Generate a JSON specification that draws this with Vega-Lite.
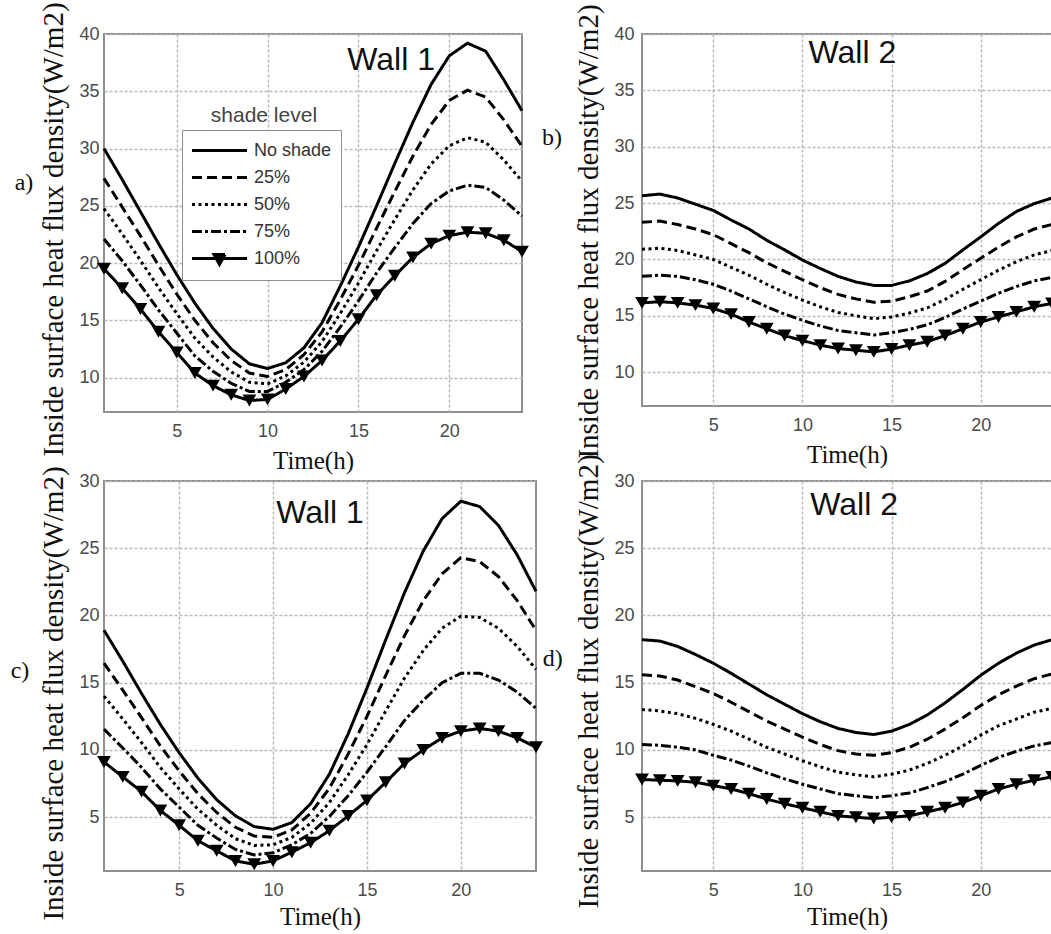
{
  "$schema": "https://vega.github.io/schema/vega-lite/v6.json",
  "background": "white",
  "padding": {"left": 9, "top": 0, "right": 0, "bottom": 0},
  "columns": 2,
  "spacing": {"row": 69, "column": 106},
  "bounds": "flush",
  "resolve": {"scale": {"strokeDash": "independent"}, "legend": {"strokeDash": "independent"}},
  "config": {
    "view": {"stroke": "#8f8f8f", "strokeWidth": 2},
    "axis": {"domain": false, "ticks": false, "grid": true, "gridColor": "#b8b8b8", "gridWidth": 1.5, "gridDash": [3, 2], "labelFont": "Liberation Sans", "labelFontSize": 18, "labelColor": "#4a4a4a", "titleFont": "Liberation Serif", "titleFontWeight": "normal", "titleColor": "#111111"},
    "axisX": {"labelPadding": 10, "titleFontSize": 25, "titlePadding": 8, "titleFont": "Liberation Serif"},
    "axisY": {"labelPadding": 5, "titleFontSize": 29, "titlePadding": 10, "titleFont": "Liberation Serif"}
  },
  "datasets": {
    "a": [
      {"hour":1,"shade":"No shade","flux":30.0},{"hour":2,"shade":"No shade","flux":27.3},{"hour":3,"shade":"No shade","flux":24.5},{"hour":4,"shade":"No shade","flux":21.7},{"hour":5,"shade":"No shade","flux":19.0},{"hour":6,"shade":"No shade","flux":16.5},{"hour":7,"shade":"No shade","flux":14.3},{"hour":8,"shade":"No shade","flux":12.5},{"hour":9,"shade":"No shade","flux":11.2},{"hour":10,"shade":"No shade","flux":10.8},{"hour":11,"shade":"No shade","flux":11.3},{"hour":12,"shade":"No shade","flux":12.6},{"hour":13,"shade":"No shade","flux":14.8},{"hour":14,"shade":"No shade","flux":18.0},{"hour":15,"shade":"No shade","flux":21.4},{"hour":16,"shade":"No shade","flux":25.0},{"hour":17,"shade":"No shade","flux":28.7},{"hour":18,"shade":"No shade","flux":32.3},{"hour":19,"shade":"No shade","flux":35.6},{"hour":20,"shade":"No shade","flux":38.1},{"hour":21,"shade":"No shade","flux":39.2},{"hour":22,"shade":"No shade","flux":38.5},{"hour":23,"shade":"No shade","flux":36.0},{"hour":24,"shade":"No shade","flux":33.3},
      {"hour":1,"shade":"25%","flux":27.4},{"hour":2,"shade":"25%","flux":24.9},{"hour":3,"shade":"25%","flux":22.4},{"hour":4,"shade":"25%","flux":19.8},{"hour":5,"shade":"25%","flux":17.3},{"hour":6,"shade":"25%","flux":15.0},{"hour":7,"shade":"25%","flux":13.05},{"hour":8,"shade":"25%","flux":11.5},{"hour":9,"shade":"25%","flux":10.4},{"hour":10,"shade":"25%","flux":10.1},{"hour":11,"shade":"25%","flux":10.7},{"hour":12,"shade":"25%","flux":12.0},{"hour":13,"shade":"25%","flux":14.0},{"hour":14,"shade":"25%","flux":16.8},{"hour":15,"shade":"25%","flux":19.8},{"hour":16,"shade":"25%","flux":23.05},{"hour":17,"shade":"25%","flux":26.25},{"hour":18,"shade":"25%","flux":29.35},{"hour":19,"shade":"25%","flux":32.1},{"hour":20,"shade":"25%","flux":34.2},{"hour":21,"shade":"25%","flux":35.1},{"hour":22,"shade":"25%","flux":34.5},{"hour":23,"shade":"25%","flux":32.5},{"hour":24,"shade":"25%","flux":30.2},
      {"hour":1,"shade":"50%","flux":24.75},{"hour":2,"shade":"50%","flux":22.55},{"hour":3,"shade":"50%","flux":20.25},{"hour":4,"shade":"50%","flux":17.85},{"hour":5,"shade":"50%","flux":15.6},{"hour":6,"shade":"50%","flux":13.45},{"hour":7,"shade":"50%","flux":11.8},{"hour":8,"shade":"50%","flux":10.5},{"hour":9,"shade":"50%","flux":9.6},{"hour":10,"shade":"50%","flux":9.45},{"hour":11,"shade":"50%","flux":10.15},{"hour":12,"shade":"50%","flux":11.35},{"hour":13,"shade":"50%","flux":13.15},{"hour":14,"shade":"50%","flux":15.6},{"hour":15,"shade":"50%","flux":18.25},{"hour":16,"shade":"50%","flux":21.1},{"hour":17,"shade":"50%","flux":23.8},{"hour":18,"shade":"50%","flux":26.4},{"hour":19,"shade":"50%","flux":28.65},{"hour":20,"shade":"50%","flux":30.25},{"hour":21,"shade":"50%","flux":30.95},{"hour":22,"shade":"50%","flux":30.55},{"hour":23,"shade":"50%","flux":29.0},{"hour":24,"shade":"50%","flux":27.15},
      {"hour":1,"shade":"75%","flux":22.1},{"hour":2,"shade":"75%","flux":20.2},{"hour":3,"shade":"75%","flux":18.1},{"hour":4,"shade":"75%","flux":15.9},{"hour":5,"shade":"75%","flux":13.9},{"hour":6,"shade":"75%","flux":11.9},{"hour":7,"shade":"75%","flux":10.55},{"hour":8,"shade":"75%","flux":9.5},{"hour":9,"shade":"75%","flux":8.8},{"hour":10,"shade":"75%","flux":8.8},{"hour":11,"shade":"75%","flux":9.6},{"hour":12,"shade":"75%","flux":10.7},{"hour":13,"shade":"75%","flux":12.3},{"hour":14,"shade":"75%","flux":14.4},{"hour":15,"shade":"75%","flux":16.7},{"hour":16,"shade":"75%","flux":19.15},{"hour":17,"shade":"75%","flux":21.35},{"hour":18,"shade":"75%","flux":23.45},{"hour":19,"shade":"75%","flux":25.2},{"hour":20,"shade":"75%","flux":26.3},{"hour":21,"shade":"75%","flux":26.8},{"hour":22,"shade":"75%","flux":26.6},{"hour":23,"shade":"75%","flux":25.5},{"hour":24,"shade":"75%","flux":24.1},
      {"hour":1,"shade":"100%","flux":19.5},{"hour":2,"shade":"100%","flux":17.8},{"hour":3,"shade":"100%","flux":16.0},{"hour":4,"shade":"100%","flux":14.0},{"hour":5,"shade":"100%","flux":12.2},{"hour":6,"shade":"100%","flux":10.4},{"hour":7,"shade":"100%","flux":9.3},{"hour":8,"shade":"100%","flux":8.5},{"hour":9,"shade":"100%","flux":8.0},{"hour":10,"shade":"100%","flux":8.1},{"hour":11,"shade":"100%","flux":9.0},{"hour":12,"shade":"100%","flux":10.1},{"hour":13,"shade":"100%","flux":11.5},{"hour":14,"shade":"100%","flux":13.2},{"hour":15,"shade":"100%","flux":15.1},{"hour":16,"shade":"100%","flux":17.2},{"hour":17,"shade":"100%","flux":18.9},{"hour":18,"shade":"100%","flux":20.5},{"hour":19,"shade":"100%","flux":21.7},{"hour":20,"shade":"100%","flux":22.4},{"hour":21,"shade":"100%","flux":22.7},{"hour":22,"shade":"100%","flux":22.6},{"hour":23,"shade":"100%","flux":22.0},{"hour":24,"shade":"100%","flux":21.0}
    ],
    "b": [
      {"hour":1,"shade":"No shade","flux":25.65},{"hour":2,"shade":"No shade","flux":25.8},{"hour":3,"shade":"No shade","flux":25.45},{"hour":4,"shade":"No shade","flux":24.9},{"hour":5,"shade":"No shade","flux":24.35},{"hour":6,"shade":"No shade","flux":23.5},{"hour":7,"shade":"No shade","flux":22.7},{"hour":8,"shade":"No shade","flux":21.7},{"hour":9,"shade":"No shade","flux":20.85},{"hour":10,"shade":"No shade","flux":19.95},{"hour":11,"shade":"No shade","flux":19.2},{"hour":12,"shade":"No shade","flux":18.5},{"hour":13,"shade":"No shade","flux":18.0},{"hour":14,"shade":"No shade","flux":17.7},{"hour":15,"shade":"No shade","flux":17.7},{"hour":16,"shade":"No shade","flux":18.1},{"hour":17,"shade":"No shade","flux":18.75},{"hour":18,"shade":"No shade","flux":19.65},{"hour":19,"shade":"No shade","flux":20.85},{"hour":20,"shade":"No shade","flux":22.0},{"hour":21,"shade":"No shade","flux":23.2},{"hour":22,"shade":"No shade","flux":24.25},{"hour":23,"shade":"No shade","flux":24.95},{"hour":24,"shade":"No shade","flux":25.45},
      {"hour":1,"shade":"25%","flux":23.3},{"hour":2,"shade":"25%","flux":23.4},{"hour":3,"shade":"25%","flux":23.1},{"hour":4,"shade":"25%","flux":22.7},{"hour":5,"shade":"25%","flux":22.2},{"hour":6,"shade":"25%","flux":21.4},{"hour":7,"shade":"25%","flux":20.6},{"hour":8,"shade":"25%","flux":19.7},{"hour":9,"shade":"25%","flux":18.95},{"hour":10,"shade":"25%","flux":18.2},{"hour":11,"shade":"25%","flux":17.5},{"hour":12,"shade":"25%","flux":16.9},{"hour":13,"shade":"25%","flux":16.5},{"hour":14,"shade":"25%","flux":16.2},{"hour":15,"shade":"25%","flux":16.3},{"hour":16,"shade":"25%","flux":16.7},{"hour":17,"shade":"25%","flux":17.2},{"hour":18,"shade":"25%","flux":18.05},{"hour":19,"shade":"25%","flux":19.1},{"hour":20,"shade":"25%","flux":20.1},{"hour":21,"shade":"25%","flux":21.1},{"hour":22,"shade":"25%","flux":22.0},{"hour":23,"shade":"25%","flux":22.7},{"hour":24,"shade":"25%","flux":23.1},
      {"hour":1,"shade":"50%","flux":20.9},{"hour":2,"shade":"50%","flux":21.0},{"hour":3,"shade":"50%","flux":20.8},{"hour":4,"shade":"50%","flux":20.4},{"hour":5,"shade":"50%","flux":20.0},{"hour":6,"shade":"50%","flux":19.3},{"hour":7,"shade":"50%","flux":18.6},{"hour":8,"shade":"50%","flux":17.8},{"hour":9,"shade":"50%","flux":17.05},{"hour":10,"shade":"50%","flux":16.4},{"hour":11,"shade":"50%","flux":15.8},{"hour":12,"shade":"50%","flux":15.3},{"hour":13,"shade":"50%","flux":15.0},{"hour":14,"shade":"50%","flux":14.75},{"hour":15,"shade":"50%","flux":14.9},{"hour":16,"shade":"50%","flux":15.25},{"hour":17,"shade":"50%","flux":15.7},{"hour":18,"shade":"50%","flux":16.45},{"hour":19,"shade":"50%","flux":17.35},{"hour":20,"shade":"50%","flux":18.2},{"hour":21,"shade":"50%","flux":19.05},{"hour":22,"shade":"50%","flux":19.8},{"hour":23,"shade":"50%","flux":20.4},{"hour":24,"shade":"50%","flux":20.8},
      {"hour":1,"shade":"75%","flux":18.5},{"hour":2,"shade":"75%","flux":18.6},{"hour":3,"shade":"75%","flux":18.5},{"hour":4,"shade":"75%","flux":18.2},{"hour":5,"shade":"75%","flux":17.8},{"hour":6,"shade":"75%","flux":17.2},{"hour":7,"shade":"75%","flux":16.5},{"hour":8,"shade":"75%","flux":15.8},{"hour":9,"shade":"75%","flux":15.15},{"hour":10,"shade":"75%","flux":14.6},{"hour":11,"shade":"75%","flux":14.1},{"hour":12,"shade":"75%","flux":13.7},{"hour":13,"shade":"75%","flux":13.5},{"hour":14,"shade":"75%","flux":13.3},{"hour":15,"shade":"75%","flux":13.5},{"hour":16,"shade":"75%","flux":13.8},{"hour":17,"shade":"75%","flux":14.2},{"hour":18,"shade":"75%","flux":14.85},{"hour":19,"shade":"75%","flux":15.6},{"hour":20,"shade":"75%","flux":16.3},{"hour":21,"shade":"75%","flux":17.0},{"hour":22,"shade":"75%","flux":17.6},{"hour":23,"shade":"75%","flux":18.1},{"hour":24,"shade":"75%","flux":18.4},
      {"hour":1,"shade":"100%","flux":16.15},{"hour":2,"shade":"100%","flux":16.25},{"hour":3,"shade":"100%","flux":16.15},{"hour":4,"shade":"100%","flux":15.95},{"hour":5,"shade":"100%","flux":15.65},{"hour":6,"shade":"100%","flux":15.15},{"hour":7,"shade":"100%","flux":14.45},{"hour":8,"shade":"100%","flux":13.85},{"hour":9,"shade":"100%","flux":13.25},{"hour":10,"shade":"100%","flux":12.8},{"hour":11,"shade":"100%","flux":12.4},{"hour":12,"shade":"100%","flux":12.1},{"hour":13,"shade":"100%","flux":11.95},{"hour":14,"shade":"100%","flux":11.8},{"hour":15,"shade":"100%","flux":12.05},{"hour":16,"shade":"100%","flux":12.4},{"hour":17,"shade":"100%","flux":12.7},{"hour":18,"shade":"100%","flux":13.25},{"hour":19,"shade":"100%","flux":13.85},{"hour":20,"shade":"100%","flux":14.45},{"hour":21,"shade":"100%","flux":14.9},{"hour":22,"shade":"100%","flux":15.35},{"hour":23,"shade":"100%","flux":15.8},{"hour":24,"shade":"100%","flux":16.1}
    ],
    "c": [
      {"hour":1,"shade":"No shade","flux":18.9},{"hour":2,"shade":"No shade","flux":16.6},{"hour":3,"shade":"No shade","flux":14.2},{"hour":4,"shade":"No shade","flux":11.9},{"hour":5,"shade":"No shade","flux":9.8},{"hour":6,"shade":"No shade","flux":7.9},{"hour":7,"shade":"No shade","flux":6.3},{"hour":8,"shade":"No shade","flux":5.1},{"hour":9,"shade":"No shade","flux":4.3},{"hour":10,"shade":"No shade","flux":4.1},{"hour":11,"shade":"No shade","flux":4.6},{"hour":12,"shade":"No shade","flux":6.0},{"hour":13,"shade":"No shade","flux":8.2},{"hour":14,"shade":"No shade","flux":11.2},{"hour":15,"shade":"No shade","flux":14.6},{"hour":16,"shade":"No shade","flux":18.2},{"hour":17,"shade":"No shade","flux":21.7},{"hour":18,"shade":"No shade","flux":24.8},{"hour":19,"shade":"No shade","flux":27.2},{"hour":20,"shade":"No shade","flux":28.5},{"hour":21,"shade":"No shade","flux":28.1},{"hour":22,"shade":"No shade","flux":26.7},{"hour":23,"shade":"No shade","flux":24.5},{"hour":24,"shade":"No shade","flux":21.8},
      {"hour":1,"shade":"25%","flux":16.45},{"hour":2,"shade":"25%","flux":14.45},{"hour":3,"shade":"25%","flux":12.4},{"hour":4,"shade":"25%","flux":10.3},{"hour":5,"shade":"25%","flux":8.45},{"hour":6,"shade":"25%","flux":6.75},{"hour":7,"shade":"25%","flux":5.35},{"hour":8,"shade":"25%","flux":4.25},{"hour":9,"shade":"25%","flux":3.6},{"hour":10,"shade":"25%","flux":3.5},{"hour":11,"shade":"25%","flux":4.05},{"hour":12,"shade":"25%","flux":5.3},{"hour":13,"shade":"25%","flux":7.15},{"hour":14,"shade":"25%","flux":9.7},{"hour":15,"shade":"25%","flux":12.5},{"hour":16,"shade":"25%","flux":15.55},{"hour":17,"shade":"25%","flux":18.5},{"hour":18,"shade":"25%","flux":21.1},{"hour":19,"shade":"25%","flux":23.1},{"hour":20,"shade":"25%","flux":24.3},{"hour":21,"shade":"25%","flux":24.0},{"hour":22,"shade":"25%","flux":22.9},{"hour":23,"shade":"25%","flux":21.1},{"hour":24,"shade":"25%","flux":18.9},
      {"hour":1,"shade":"50%","flux":14.0},{"hour":2,"shade":"50%","flux":12.3},{"hour":3,"shade":"50%","flux":10.55},{"hour":4,"shade":"50%","flux":8.7},{"hour":5,"shade":"50%","flux":7.1},{"hour":6,"shade":"50%","flux":5.6},{"hour":7,"shade":"50%","flux":4.4},{"hour":8,"shade":"50%","flux":3.4},{"hour":9,"shade":"50%","flux":2.9},{"hour":10,"shade":"50%","flux":2.95},{"hour":11,"shade":"50%","flux":3.5},{"hour":12,"shade":"50%","flux":4.55},{"hour":13,"shade":"50%","flux":6.1},{"hour":14,"shade":"50%","flux":8.15},{"hour":15,"shade":"50%","flux":10.4},{"hour":16,"shade":"50%","flux":12.9},{"hour":17,"shade":"50%","flux":15.35},{"hour":18,"shade":"50%","flux":17.4},{"hour":19,"shade":"50%","flux":19.05},{"hour":20,"shade":"50%","flux":19.95},{"hour":21,"shade":"50%","flux":19.85},{"hour":22,"shade":"50%","flux":19.05},{"hour":23,"shade":"50%","flux":17.7},{"hour":24,"shade":"50%","flux":16.0},
      {"hour":1,"shade":"75%","flux":11.55},{"hour":2,"shade":"75%","flux":10.15},{"hour":3,"shade":"75%","flux":8.7},{"hour":4,"shade":"75%","flux":7.1},{"hour":5,"shade":"75%","flux":5.75},{"hour":6,"shade":"75%","flux":4.4},{"hour":7,"shade":"75%","flux":3.45},{"hour":8,"shade":"75%","flux":2.6},{"hour":9,"shade":"75%","flux":2.2},{"hour":10,"shade":"75%","flux":2.35},{"hour":11,"shade":"75%","flux":2.95},{"hour":12,"shade":"75%","flux":3.8},{"hour":13,"shade":"75%","flux":5.05},{"hour":14,"shade":"75%","flux":6.6},{"hour":15,"shade":"75%","flux":8.35},{"hour":16,"shade":"75%","flux":10.25},{"hour":17,"shade":"75%","flux":12.2},{"hour":18,"shade":"75%","flux":13.7},{"hour":19,"shade":"75%","flux":15.0},{"hour":20,"shade":"75%","flux":15.7},{"hour":21,"shade":"75%","flux":15.7},{"hour":22,"shade":"75%","flux":15.2},{"hour":23,"shade":"75%","flux":14.3},{"hour":24,"shade":"75%","flux":13.1},
      {"hour":1,"shade":"100%","flux":9.1},{"hour":2,"shade":"100%","flux":8.0},{"hour":3,"shade":"100%","flux":6.9},{"hour":4,"shade":"100%","flux":5.5},{"hour":5,"shade":"100%","flux":4.4},{"hour":6,"shade":"100%","flux":3.25},{"hour":7,"shade":"100%","flux":2.5},{"hour":8,"shade":"100%","flux":1.75},{"hour":9,"shade":"100%","flux":1.5},{"hour":10,"shade":"100%","flux":1.75},{"hour":11,"shade":"100%","flux":2.4},{"hour":12,"shade":"100%","flux":3.1},{"hour":13,"shade":"100%","flux":4.0},{"hour":14,"shade":"100%","flux":5.1},{"hour":15,"shade":"100%","flux":6.25},{"hour":16,"shade":"100%","flux":7.6},{"hour":17,"shade":"100%","flux":9.0},{"hour":18,"shade":"100%","flux":10.0},{"hour":19,"shade":"100%","flux":10.9},{"hour":20,"shade":"100%","flux":11.4},{"hour":21,"shade":"100%","flux":11.6},{"hour":22,"shade":"100%","flux":11.4},{"hour":23,"shade":"100%","flux":10.9},{"hour":24,"shade":"100%","flux":10.2}
    ],
    "d": [
      {"hour":1,"shade":"No shade","flux":18.2},{"hour":2,"shade":"No shade","flux":18.1},{"hour":3,"shade":"No shade","flux":17.7},{"hour":4,"shade":"No shade","flux":17.1},{"hour":5,"shade":"No shade","flux":16.45},{"hour":6,"shade":"No shade","flux":15.7},{"hour":7,"shade":"No shade","flux":14.9},{"hour":8,"shade":"No shade","flux":14.1},{"hour":9,"shade":"No shade","flux":13.4},{"hour":10,"shade":"No shade","flux":12.7},{"hour":11,"shade":"No shade","flux":12.1},{"hour":12,"shade":"No shade","flux":11.6},{"hour":13,"shade":"No shade","flux":11.3},{"hour":14,"shade":"No shade","flux":11.15},{"hour":15,"shade":"No shade","flux":11.4},{"hour":16,"shade":"No shade","flux":11.9},{"hour":17,"shade":"No shade","flux":12.6},{"hour":18,"shade":"No shade","flux":13.5},{"hour":19,"shade":"No shade","flux":14.5},{"hour":20,"shade":"No shade","flux":15.55},{"hour":21,"shade":"No shade","flux":16.45},{"hour":22,"shade":"No shade","flux":17.2},{"hour":23,"shade":"No shade","flux":17.8},{"hour":24,"shade":"No shade","flux":18.2},
      {"hour":1,"shade":"25%","flux":15.6},{"hour":2,"shade":"25%","flux":15.5},{"hour":3,"shade":"25%","flux":15.2},{"hour":4,"shade":"25%","flux":14.7},{"hour":5,"shade":"25%","flux":14.2},{"hour":6,"shade":"25%","flux":13.55},{"hour":7,"shade":"25%","flux":12.85},{"hour":8,"shade":"25%","flux":12.15},{"hour":9,"shade":"25%","flux":11.55},{"hour":10,"shade":"25%","flux":10.95},{"hour":11,"shade":"25%","flux":10.4},{"hour":12,"shade":"25%","flux":9.95},{"hour":13,"shade":"25%","flux":9.7},{"hour":14,"shade":"25%","flux":9.6},{"hour":15,"shade":"25%","flux":9.8},{"hour":16,"shade":"25%","flux":10.2},{"hour":17,"shade":"25%","flux":10.8},{"hour":18,"shade":"25%","flux":11.55},{"hour":19,"shade":"25%","flux":12.4},{"hour":20,"shade":"25%","flux":13.3},{"hour":21,"shade":"25%","flux":14.1},{"hour":22,"shade":"25%","flux":14.75},{"hour":23,"shade":"25%","flux":15.3},{"hour":24,"shade":"25%","flux":15.65},
      {"hour":1,"shade":"50%","flux":13.0},{"hour":2,"shade":"50%","flux":12.9},{"hour":3,"shade":"50%","flux":12.7},{"hour":4,"shade":"50%","flux":12.35},{"hour":5,"shade":"50%","flux":11.9},{"hour":6,"shade":"50%","flux":11.4},{"hour":7,"shade":"50%","flux":10.8},{"hour":8,"shade":"50%","flux":10.2},{"hour":9,"shade":"50%","flux":9.7},{"hour":10,"shade":"50%","flux":9.2},{"hour":11,"shade":"50%","flux":8.75},{"hour":12,"shade":"50%","flux":8.35},{"hour":13,"shade":"50%","flux":8.15},{"hour":14,"shade":"50%","flux":8.0},{"hour":15,"shade":"50%","flux":8.2},{"hour":16,"shade":"50%","flux":8.5},{"hour":17,"shade":"50%","flux":9.0},{"hour":18,"shade":"50%","flux":9.6},{"hour":19,"shade":"50%","flux":10.3},{"hour":20,"shade":"50%","flux":11.1},{"hour":21,"shade":"50%","flux":11.8},{"hour":22,"shade":"50%","flux":12.3},{"hour":23,"shade":"50%","flux":12.8},{"hour":24,"shade":"50%","flux":13.1},
      {"hour":1,"shade":"75%","flux":10.4},{"hour":2,"shade":"75%","flux":10.35},{"hour":3,"shade":"75%","flux":10.2},{"hour":4,"shade":"75%","flux":10.0},{"hour":5,"shade":"75%","flux":9.6},{"hour":6,"shade":"75%","flux":9.25},{"hour":7,"shade":"75%","flux":8.8},{"hour":8,"shade":"75%","flux":8.3},{"hour":9,"shade":"75%","flux":7.85},{"hour":10,"shade":"75%","flux":7.45},{"hour":11,"shade":"75%","flux":7.1},{"hour":12,"shade":"75%","flux":6.75},{"hour":13,"shade":"75%","flux":6.6},{"hour":14,"shade":"75%","flux":6.45},{"hour":15,"shade":"75%","flux":6.6},{"hour":16,"shade":"75%","flux":6.8},{"hour":17,"shade":"75%","flux":7.2},{"hour":18,"shade":"75%","flux":7.65},{"hour":19,"shade":"75%","flux":8.2},{"hour":20,"shade":"75%","flux":8.85},{"hour":21,"shade":"75%","flux":9.45},{"hour":22,"shade":"75%","flux":9.9},{"hour":23,"shade":"75%","flux":10.3},{"hour":24,"shade":"75%","flux":10.55},
      {"hour":1,"shade":"100%","flux":7.8},{"hour":2,"shade":"100%","flux":7.75},{"hour":3,"shade":"100%","flux":7.7},{"hour":4,"shade":"100%","flux":7.6},{"hour":5,"shade":"100%","flux":7.35},{"hour":6,"shade":"100%","flux":7.1},{"hour":7,"shade":"100%","flux":6.75},{"hour":8,"shade":"100%","flux":6.35},{"hour":9,"shade":"100%","flux":6.0},{"hour":10,"shade":"100%","flux":5.7},{"hour":11,"shade":"100%","flux":5.4},{"hour":12,"shade":"100%","flux":5.1},{"hour":13,"shade":"100%","flux":5.0},{"hour":14,"shade":"100%","flux":4.9},{"hour":15,"shade":"100%","flux":5.0},{"hour":16,"shade":"100%","flux":5.1},{"hour":17,"shade":"100%","flux":5.4},{"hour":18,"shade":"100%","flux":5.7},{"hour":19,"shade":"100%","flux":6.1},{"hour":20,"shade":"100%","flux":6.6},{"hour":21,"shade":"100%","flux":7.1},{"hour":22,"shade":"100%","flux":7.45},{"hour":23,"shade":"100%","flux":7.75},{"hour":24,"shade":"100%","flux":8.0}
    ]
  },
  "concat": [
    {
      "width": 418, "height": 378,
      "layer": [
        {
          "data": {"name": "a"},
          "mark": {"type": "line", "color": "black", "strokeWidth": 3},
          "encoding": {
            "x": {"field": "hour", "type": "quantitative", "scale": {"domain": [1, 24], "nice": false, "zero": false}, "axis": {"values": [5, 10, 15, 20], "title": "Time(h)", "titleFont": "Liberation Serif"}},
            "y": {"field": "flux", "type": "quantitative", "scale": {"domain": [7, 40], "nice": false, "zero": false}, "axis": {"values": [10, 15, 20, 25, 30, 35, 40], "title": "Inside surface heat flux density(W/m2)", "titleFont": "Liberation Serif", "titleY": 195}},
            "strokeDash": {"field": "shade", "type": "nominal", "scale": {"domain": ["No shade", "25%", "50%", "75%", "100%"], "range": [[1, 0], [10, 5], [3, 3.5], [10, 3, 3, 3], [1, 0]]},
              "legend": {"orient": "none", "legendX": 78, "legendY": 96, "title": null, "padding": 9, "strokeColor": "#8f8f8f", "fillColor": "white", "labelFont": "Liberation Sans", "labelFontSize": 18, "labelColor": "#333333", "labelOffset": 40, "symbolSize": 400, "symbolStrokeWidth": 3, "symbolStrokeColor": "black", "rowPadding": 6,
                "encode": {"symbols": {"update": {"shape": {"signal": "datum.value === '100%' ? 'M-1.05,0H4.45M1.15,-0.4H2.25L1.7,0.6Z' : 'M-1.05,0H4.45'"}, "fill": {"value": "black"}, "stroke": {"value": "black"}, "strokeWidth": {"value": 3}}}}}}
          }
        },
        {
          "data": {"name": "a"},
          "transform": [{"filter": "datum.shade === '100%'"}],
          "mark": {"type": "point", "shape": "triangle-down", "filled": true, "color": "black", "size": 190, "opacity": 1},
          "encoding": {"x": {"field": "hour", "type": "quantitative"}, "y": {"field": "flux", "type": "quantitative"}}
        },
        {
          "data": {"values": [{"label": "Wall 1"}]},
          "mark": {"type": "text", "font": "Liberation Sans", "fontSize": 32, "color": "#111111"},
          "encoding": {"x": {"datum": 16.8}, "y": {"datum": 37.7}, "text": {"field": "label"}}
        },
        {
          "data": {"values": [{"label": "shade level"}]},
          "mark": {"type": "text", "font": "Liberation Sans", "fontSize": 21, "color": "#444444"},
          "encoding": {"x": {"datum": 9.8}, "y": {"datum": 32.8}, "text": {"field": "label"}}
        },
        {
          "data": {"values": [{"label": "a)"}]},
          "mark": {"type": "text", "font": "Liberation Serif", "fontSize": 24, "color": "#111111"},
          "encoding": {"x": {"datum": -3.4}, "y": {"datum": 27.0}, "text": {"field": "label"}}
        }
      ]
    },
    {
      "width": 410, "height": 372,
      "layer": [
        {
          "data": {"name": "b"},
          "mark": {"type": "line", "color": "black", "strokeWidth": 3},
          "encoding": {
            "x": {"field": "hour", "type": "quantitative", "scale": {"domain": [1, 24], "nice": false, "zero": false}, "axis": {"values": [5, 10, 15, 20], "title": "Time(h)", "titleFont": "Liberation Serif"}},
            "y": {"field": "flux", "type": "quantitative", "scale": {"domain": [7, 40], "nice": false, "zero": false}, "axis": {"values": [10, 15, 20, 25, 30, 35, 40], "title": "Inside surface heat flux density(W/m2)", "titleFont": "Liberation Serif", "titleY": 197, "labelPadding": 8}},
            "strokeDash": {"field": "shade", "type": "nominal", "scale": {"domain": ["No shade", "25%", "50%", "75%", "100%"], "range": [[1, 0], [10, 5], [3, 3.5], [10, 3, 3, 3], [1, 0]]}, "legend": null}
          }
        },
        {
          "data": {"name": "b"},
          "transform": [{"filter": "datum.shade === '100%'"}],
          "mark": {"type": "point", "shape": "triangle-down", "filled": true, "color": "black", "size": 190, "opacity": 1},
          "encoding": {"x": {"field": "hour", "type": "quantitative"}, "y": {"field": "flux", "type": "quantitative"}}
        },
        {
          "data": {"values": [{"label": "Wall 2"}]},
          "mark": {"type": "text", "font": "Liberation Sans", "fontSize": 32, "color": "#111111"},
          "encoding": {"x": {"datum": 12.8}, "y": {"datum": 38.3}, "text": {"field": "label"}}
        },
        {
          "data": {"values": [{"label": "b)"}]},
          "mark": {"type": "text", "font": "Liberation Serif", "fontSize": 24, "color": "#111111"},
          "encoding": {"x": {"datum": -4.05}, "y": {"datum": 30.8}, "text": {"field": "label"}}
        }
      ]
    },
    {
      "width": 432, "height": 390,
      "layer": [
        {
          "data": {"name": "c"},
          "mark": {"type": "line", "color": "black", "strokeWidth": 3},
          "encoding": {
            "x": {"field": "hour", "type": "quantitative", "scale": {"domain": [1, 24], "nice": false, "zero": false}, "axis": {"values": [5, 10, 15, 20], "title": "Time(h)", "titleFont": "Liberation Serif", "titlePadding": 5}},
            "y": {"field": "flux", "type": "quantitative", "scale": {"domain": [1, 30], "nice": false, "zero": false}, "axis": {"values": [5, 10, 15, 20, 25, 30], "title": "Inside surface heat flux density(W/m2)", "titleFont": "Liberation Serif", "titleY": 212}},
            "strokeDash": {"field": "shade", "type": "nominal", "scale": {"domain": ["No shade", "25%", "50%", "75%", "100%"], "range": [[1, 0], [10, 5], [3, 3.5], [10, 3, 3, 3], [1, 0]]}, "legend": null}
          }
        },
        {
          "data": {"name": "c"},
          "transform": [{"filter": "datum.shade === '100%'"}],
          "mark": {"type": "point", "shape": "triangle-down", "filled": true, "color": "black", "size": 190, "opacity": 1},
          "encoding": {"x": {"field": "hour", "type": "quantitative"}, "y": {"field": "flux", "type": "quantitative"}}
        },
        {
          "data": {"values": [{"label": "Wall 1"}]},
          "mark": {"type": "text", "font": "Liberation Sans", "fontSize": 32, "color": "#111111"},
          "encoding": {"x": {"datum": 12.5}, "y": {"datum": 27.6}, "text": {"field": "label"}}
        },
        {
          "data": {"values": [{"label": "c)"}]},
          "mark": {"type": "text", "font": "Liberation Serif", "fontSize": 24, "color": "#111111"},
          "encoding": {"x": {"datum": -3.47}, "y": {"datum": 15.9}, "text": {"field": "label"}}
        }
      ]
    },
    {
      "width": 410, "height": 390,
      "layer": [
        {
          "data": {"name": "d"},
          "mark": {"type": "line", "color": "black", "strokeWidth": 3},
          "encoding": {
            "x": {"field": "hour", "type": "quantitative", "scale": {"domain": [1, 24], "nice": false, "zero": false}, "axis": {"values": [5, 10, 15, 20], "title": "Time(h)", "titleFont": "Liberation Serif", "titlePadding": 5}},
            "y": {"field": "flux", "type": "quantitative", "scale": {"domain": [1, 30], "nice": false, "zero": false}, "axis": {"values": [5, 10, 15, 20, 25, 30], "title": "Inside surface heat flux density(W/m2)", "titleFont": "Liberation Serif", "titleY": 200, "labelPadding": 8}},
            "strokeDash": {"field": "shade", "type": "nominal", "scale": {"domain": ["No shade", "25%", "50%", "75%", "100%"], "range": [[1, 0], [10, 5], [3, 3.5], [10, 3, 3, 3], [1, 0]]}, "legend": null}
          }
        },
        {
          "data": {"name": "d"},
          "transform": [{"filter": "datum.shade === '100%'"}],
          "mark": {"type": "point", "shape": "triangle-down", "filled": true, "color": "black", "size": 190, "opacity": 1},
          "encoding": {"x": {"field": "hour", "type": "quantitative"}, "y": {"field": "flux", "type": "quantitative"}}
        },
        {
          "data": {"values": [{"label": "Wall 2"}]},
          "mark": {"type": "text", "font": "Liberation Sans", "fontSize": 32, "color": "#111111"},
          "encoding": {"x": {"datum": 12.9}, "y": {"datum": 28.2}, "text": {"field": "label"}}
        },
        {
          "data": {"values": [{"label": "d)"}]},
          "mark": {"type": "text", "font": "Liberation Serif", "fontSize": 24, "color": "#111111"},
          "encoding": {"x": {"datum": -4.0}, "y": {"datum": 16.8}, "text": {"field": "label"}}
        }
      ]
    }
  ]
}
